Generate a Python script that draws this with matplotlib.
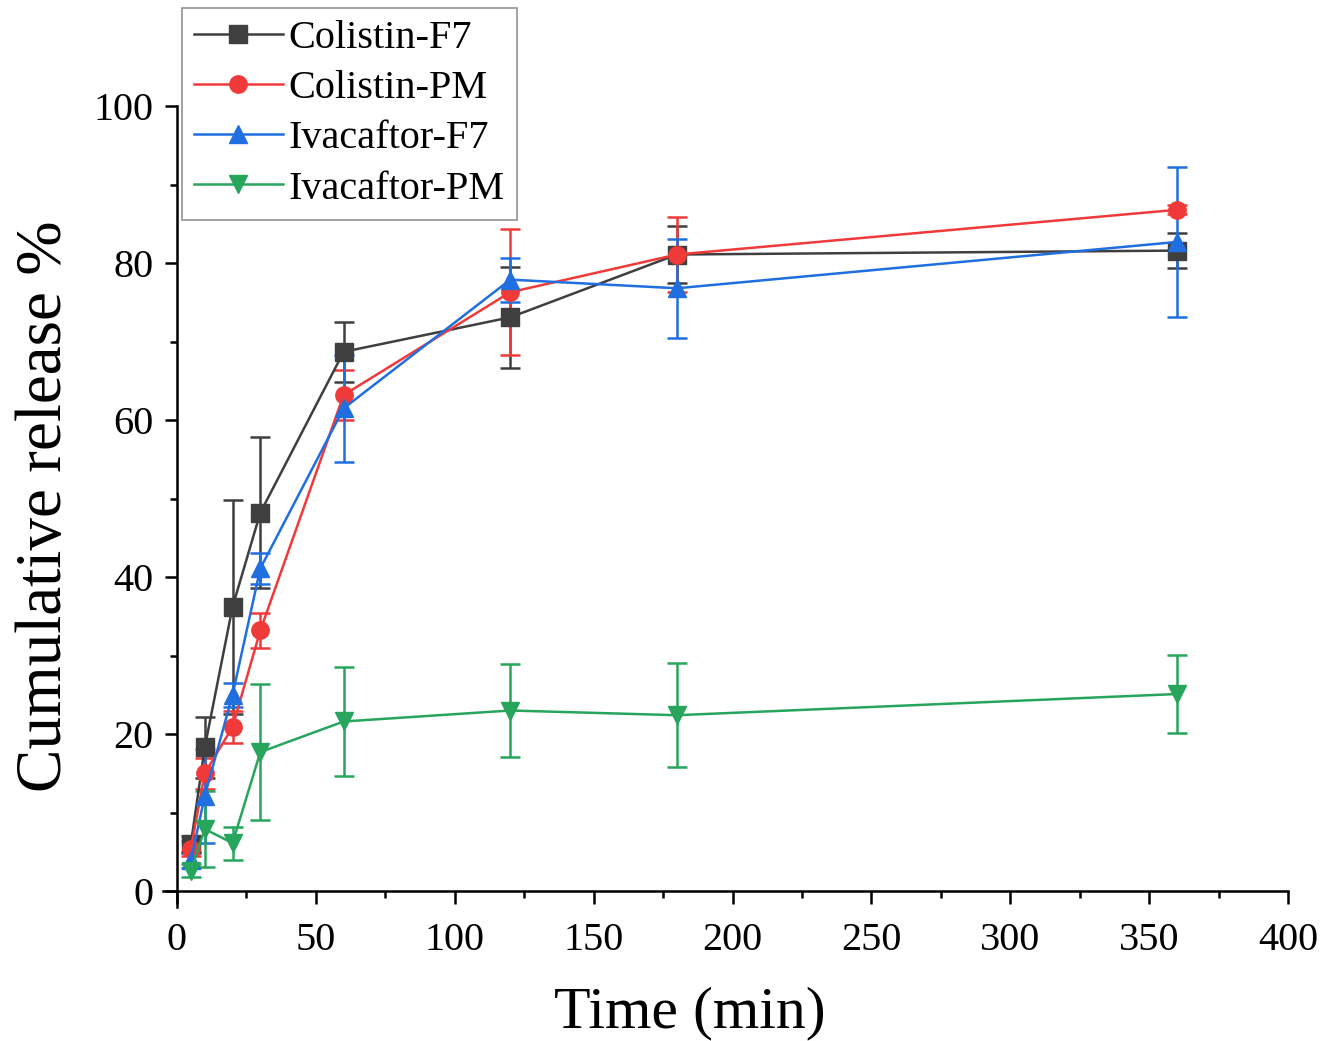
import matplotlib
matplotlib.use("Agg")
import matplotlib.pyplot as plt
from matplotlib.ticker import MultipleLocator
from matplotlib.lines import Line2D

plt.rcParams['font.family'] = ['Liberation Serif', 'DejaVu Serif']

time_min = [5, 10, 20, 30, 60, 120, 180, 360]

colistin_f7 = [6.0, 18.3, 36.2, 48.2, 68.7, 73.1, 81.1, 81.6]
colistin_f7_err = [1.0, 3.9, 13.6, 9.6, 3.8, 6.4, 3.6, 2.2]

colistin_pm = [5.4, 15.0, 20.9, 33.2, 63.2, 76.3, 81.1, 86.8]
colistin_pm_err = [1.0, 2.0, 2.0, 2.2, 3.2, 8.0, 4.8, 0.6]

ivacaftor_f7 = [3.9, 12.1, 25.0, 41.1, 61.5, 77.9, 76.8, 82.7]
ivacaftor_f7_err = [1.0, 6.0, 1.5, 2.0, 6.8, 2.8, 6.3, 9.6]

ivacaftor_pm = [2.6, 7.9, 6.1, 17.7, 21.6, 23.0, 22.4, 25.1]
ivacaftor_pm_err = [0.8, 4.9, 2.1, 8.7, 6.9, 5.9, 6.6, 5.0]

series = [
    ("Colistin-F7", colistin_f7, colistin_f7_err, '#3f3f3f', 's'),
    ("Colistin-PM", colistin_pm, colistin_pm_err, '#f03a3a', 'o'),
    ("Ivacaftor-F7", ivacaftor_f7, ivacaftor_f7_err, '#1f6fe0', '^'),
    ("Ivacaftor-PM", ivacaftor_pm, ivacaftor_pm_err, '#28a55c', 'v'),
]

fig = plt.figure(figsize=(13.39, 10.41), dpi=100)
ax = fig.add_axes([0.1218, 0.129, 0.962 - 0.1218, 0.898 - 0.129])

handles = []
for label, vals, errs, color, marker in series:
    ax.errorbar(time_min, vals, yerr=errs, color=color, marker=marker,
                markersize=12.5, linewidth=1.8, elinewidth=1.8,
                capsize=7, capthick=1.8)
    handles.append(Line2D([], [], color=color, marker=marker, markersize=12.5,
                          linewidth=1.8, label=label))

ax.set_xlim(-5, 400)
ax.set_ylim(-2, 100)
ax.spines['left'].set_position(('data', 0))
ax.spines['bottom'].set_position(('data', 0))
ax.spines['top'].set_visible(False)
ax.spines['right'].set_visible(False)
for s in ('left', 'bottom'):
    ax.spines[s].set_linewidth(1.8)

ax.xaxis.set_major_locator(MultipleLocator(50))
ax.xaxis.set_minor_locator(MultipleLocator(25))
ax.yaxis.set_major_locator(MultipleLocator(20))
ax.yaxis.set_minor_locator(MultipleLocator(10))
ax.tick_params(which='major', direction='out', length=9, width=1.8, labelsize=29)
ax.tick_params(axis='x', which='major', pad=13)
ax.tick_params(axis='y', which='major', pad=8)
ax.tick_params(which='minor', direction='out', length=5, width=1.8)

ax.set_xlabel("Time (min)", fontsize=43)
ax.xaxis.set_label_coords(0.468, -0.099)
ax.set_ylabel("Cumulative release %", fontsize=47, labelpad=13)

leg = ax.legend(handles=handles, loc='upper left', bbox_to_anchor=(182 / 1339, 1 - 8 / 1041),
                bbox_transform=fig.transFigure, fontsize=29, frameon=True, fancybox=False,
                edgecolor='#777777', handlelength=2.2, borderpad=0.3, labelspacing=0.32,
                handletextpad=0.15, borderaxespad=0)
leg.get_frame().set_linewidth(1.2)

fig.savefig("out.png", dpi=100)
